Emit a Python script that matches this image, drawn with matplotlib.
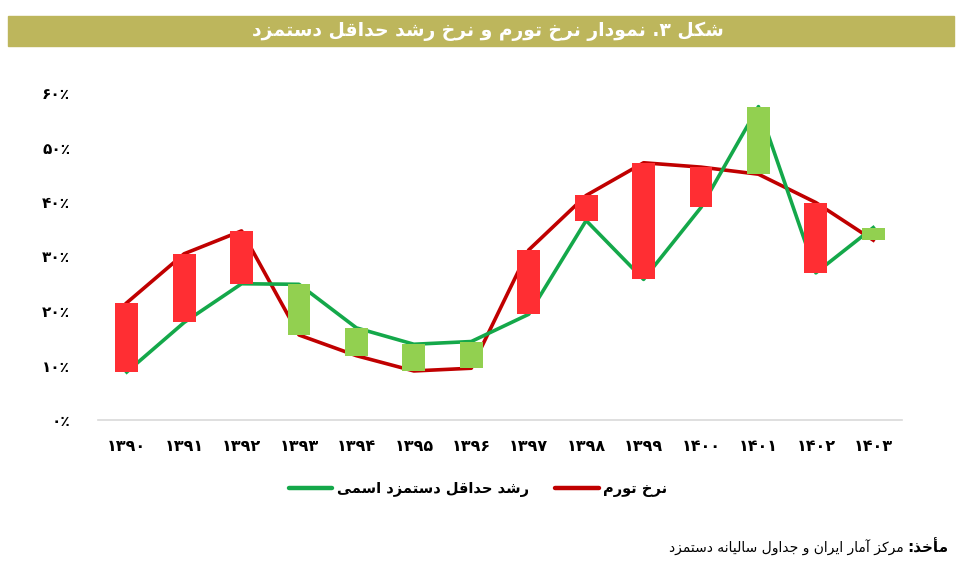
import numpy as np
import matplotlib
matplotlib.use("Agg")
import matplotlib.pyplot as plt
from matplotlib.patches import Rectangle
from matplotlib.lines import Line2D

# data
years = ["۱۳۹۰", "۱۳۹۱", "۱۳۹۲", "۱۳۹۳", "۱۳۹۴", "۱۳۹۵", "۱۳۹۶",
         "۱۳۹۷", "۱۳۹۸", "۱۳۹۹", "۱۴۰۰", "۱۴۰۱", "۱۴۰۲", "۱۴۰۳"]
inflation = [21.5, 30.5, 34.7, 15.6, 11.8, 9.0, 9.5, 31.2, 41.2, 47.2, 46.4, 45.1, 39.9, 33.0]
wage_growth = [8.8, 17.9, 25.0, 24.9, 16.9, 13.9, 14.4, 19.4, 36.6, 25.8, 39.0, 57.5, 27.0, 35.3]
y_ticks = [0, 10, 20, 30, 40, 50, 60]
y_labels = ["۰٪", "۱۰٪", "۲۰٪", "۳۰٪", "۴۰٪", "۵۰٪", "۶۰٪"]

title = "شکل ۳. نمودار نرخ تورم و نرخ رشد حداقل دستمزد"
legend_wage = "رشد حداقل دستمزد اسمی"
legend_infl = "نرخ تورم"
source_bold = "مأخذ:"
source_text = "مرکز آمار ایران و جداول سالیانه دستمزد"

# small arabic/persian shaper (matplotlib has no text shaping)
FORMS = {
    "ا": (0xFE8D, 0xFE8E, None, None), "آ": (0xFE81, 0xFE82, None, None),
    "أ": (0xFE83, 0xFE84, None, None), "ب": (0xFE8F, 0xFE90, 0xFE91, 0xFE92),
    "پ": (0xFB56, 0xFB57, 0xFB58, 0xFB59), "ت": (0xFE95, 0xFE96, 0xFE97, 0xFE98),
    "ث": (0xFE99, 0xFE9A, 0xFE9B, 0xFE9C), "ج": (0xFE9D, 0xFE9E, 0xFE9F, 0xFEA0),
    "چ": (0xFB7A, 0xFB7B, 0xFB7C, 0xFB7D), "ح": (0xFEA1, 0xFEA2, 0xFEA3, 0xFEA4),
    "خ": (0xFEA5, 0xFEA6, 0xFEA7, 0xFEA8), "د": (0xFEA9, 0xFEAA, None, None),
    "ذ": (0xFEAB, 0xFEAC, None, None), "ر": (0xFEAD, 0xFEAE, None, None),
    "ز": (0xFEAF, 0xFEB0, None, None), "ژ": (0xFB8A, 0xFB8B, None, None),
    "س": (0xFEB1, 0xFEB2, 0xFEB3, 0xFEB4), "ش": (0xFEB5, 0xFEB6, 0xFEB7, 0xFEB8),
    "ص": (0xFEB9, 0xFEBA, 0xFEBB, 0xFEBC), "ض": (0xFEBD, 0xFEBE, 0xFEBF, 0xFEC0),
    "ط": (0xFEC1, 0xFEC2, 0xFEC3, 0xFEC4), "ظ": (0xFEC5, 0xFEC6, 0xFEC7, 0xFEC8),
    "ع": (0xFEC9, 0xFECA, 0xFECB, 0xFECC), "غ": (0xFECD, 0xFECE, 0xFECF, 0xFED0),
    "ف": (0xFED1, 0xFED2, 0xFED3, 0xFED4), "ق": (0xFED5, 0xFED6, 0xFED7, 0xFED8),
    "ک": (0xFB8E, 0xFB8F, 0xFB90, 0xFB91), "گ": (0xFB92, 0xFB93, 0xFB94, 0xFB95),
    "ل": (0xFEDD, 0xFEDE, 0xFEDF, 0xFEE0), "م": (0xFEE1, 0xFEE2, 0xFEE3, 0xFEE4),
    "ن": (0xFEE5, 0xFEE6, 0xFEE7, 0xFEE8), "ه": (0xFEE9, 0xFEEA, 0xFEEB, 0xFEEC),
    "و": (0xFEED, 0xFEEE, None, None), "ی": (0xFBFC, 0xFBFD, 0xFBFE, 0xFBFF),
}


def joins_next(c):
    return c in FORMS and FORMS[c][2] is not None


def fa(text):
    out = []
    for i, c in enumerate(text):
        if c not in FORMS:
            out.append(c)
            continue
        prev = text[i - 1] if i > 0 else ""
        nxt = text[i + 1] if i + 1 < len(text) else ""
        jp = joins_next(prev)
        jn = joins_next(c) and nxt in FORMS
        iso, fin, ini, med = FORMS[c]
        if jp and jn:
            code = med
        elif jp:
            code = fin
        elif jn:
            code = ini
        else:
            code = iso
        out.append(chr(code))
    return "".join(reversed(out))


plt.rcParams['font.family'] = ['DejaVu Sans']

fig = plt.figure(figsize=(9.73, 5.70), dpi=100)
ax = fig.add_axes([98 / 973, 150 / 570, 804 / 973, 327 / 570])

x = np.arange(len(years))
green_line = "#14A84A"
red_line = "#C00000"

ax.plot(x, inflation, color=red_line, lw=2.6, zorder=2)
ax.plot(x, wage_growth, color=green_line, lw=2.6, zorder=3)

w = 0.4
for xi, a, b in zip(x, inflation, wage_growth):
    lo, hi = min(a, b), max(a, b)
    col = "#FF2E33" if a > b else "#92D050"
    ax.add_patch(Rectangle((xi - w / 2, lo), w, hi - lo, color=col, lw=0, zorder=4))

ax.set_xlim(-0.5, len(years) - 0.5)
ax.set_ylim(0, 60)
ax.set_xticks(x)
ax.set_xticklabels(years, fontsize=11.5, fontweight='bold')
ax.set_yticks(y_ticks)
ax.set_yticklabels(y_labels, fontsize=11, fontweight='bold')
ax.tick_params(length=0)
ax.tick_params(axis='x', pad=14)
ax.tick_params(axis='y', pad=20)
for s in ["top", "right", "left"]:
    ax.spines[s].set_visible(False)
ax.spines["bottom"].set_color("#D9D9D9")
ax.spines["bottom"].set_linewidth(1.2)

# title bar
fig.patches.append(Rectangle((8 / 973, 1 - 46 / 570), 946 / 973, 30 / 570,
                             transform=fig.transFigure, color="#BDB65C", zorder=0))
fig.text(488 / 973, 1 - 31 / 570, fa(title), color="white", fontsize=13.5,
         fontweight='bold', ha='center', va='center')

handles = [Line2D([], [], color=green_line, lw=3.2, solid_capstyle='round'),
           Line2D([], [], color=red_line, lw=3.2, solid_capstyle='round')]
fig.legend(handles, [fa(legend_wage), fa(legend_infl)], ncol=2, loc='center',
           bbox_to_anchor=(478 / 973, 1 - 489 / 570), frameon=False,
           prop={'size': 10.5, 'weight': 'bold'}, handlelength=3.0,
           handletextpad=0.3, columnspacing=1.8)

# source note
src = fig.text(948 / 973, 1 - 548 / 570, fa(source_bold), fontsize=11,
               fontweight='bold', ha='right', va='center')
fig.canvas.draw()
bb = src.get_window_extent()
fig.text((bb.x0 - 3) / 973, 1 - 548 / 570, fa(source_text), fontsize=10,
         ha='right', va='center')

fig.savefig("out.png", dpi=100)
